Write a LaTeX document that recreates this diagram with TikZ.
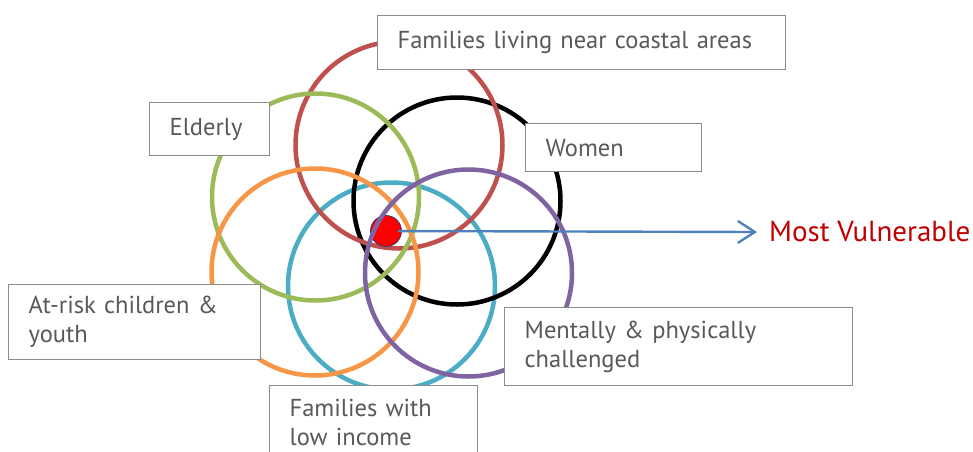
\documentclass[tikz,border=0pt]{standalone}
\usepackage{fontspec}
\setmainfont{PT Sans}
\usetikzlibrary{arrows.meta}
\definecolor{cRed}{HTML}{C0504D}
\definecolor{cGreen}{HTML}{9BBB59}
\definecolor{cOrange}{HTML}{F79646}
\definecolor{cCyan}{HTML}{4BACC6}
\definecolor{cPurple}{HTML}{8064A2}
\definecolor{cArrow}{HTML}{4F81BD}
\definecolor{cText}{HTML}{595959}
\definecolor{cBorder}{HTML}{8C8C8C}
\definecolor{cAlert}{HTML}{C00000}
\definecolor{cCoreEdge}{HTML}{2F3E6E}
\begin{document}
\begin{tikzpicture}[x=1pt,y=-1pt,
  ring/.style={circle,draw=#1,line width=4.5pt,minimum size=207pt,inner sep=0pt},
  labelbox/.style={draw=cBorder,line width=1.3pt,fill=white,anchor=north west,
    align=left,inner xsep=20pt,inner ysep=0pt,text=cText,
    font=\fontsize{24.5}{29}\selectfont},
  pointer/.style={draw=cArrow,line width=2.4pt,
    -{Straight Barb[length=17pt,width=22pt,line width=2.4pt]}}
]
\useasboundingbox (0,0) rectangle (973,451);
\clip (0,0) rectangle (973,451);

% overlapping groups
\node[ring=cCyan]   (income)  at (391.5,286) {};
\node[ring=black]   (women)   at (457,201)   {};
\node[ring=cRed]    (coast)   at (399,145)   {};
\node[ring=cGreen]  (elderly) at (315.5,197) {};
\node[ring=cOrange] (youth)   at (315,272)   {};
\node[circle,fill=red,draw=cCoreEdge,line width=0.8pt,minimum size=31pt,inner sep=0pt] (core) at (386,231) {};
\node[ring=cPurple] (mental)  at (468.5,273) {};

% labels
\node[labelbox,text width=368pt,minimum height=54pt] (coastlbl) at (377,15) {Families living near coastal areas};
\node[labelbox,text width=80pt,minimum height=53pt] (elderlbl) at (149,102) {Elderly};
\node[labelbox,text width=136pt,minimum height=48pt] (womenlbl) at (525,123) {Women};
\node[labelbox,text width=212pt,minimum height=75pt] (youthlbl) at (8,284) {At-risk children \&\\youth};
\node[labelbox,text width=308pt,minimum height=78pt] (mentallbl) at (504,307) {Mentally \& physically\\challenged};
\node[labelbox,text width=168pt,minimum height=74pt] (incomelbl) at (269,385) {Families with\\low income};

% outcome
\node[anchor=west,inner xsep=12pt,inner ysep=0pt,text=cAlert,font=\fontsize{29}{34}\selectfont] (most) at (757,232) {Most Vulnerable};
\draw[pointer,shorten <=12pt] (core.center) -- (most.west);
\end{tikzpicture}
\end{document}
